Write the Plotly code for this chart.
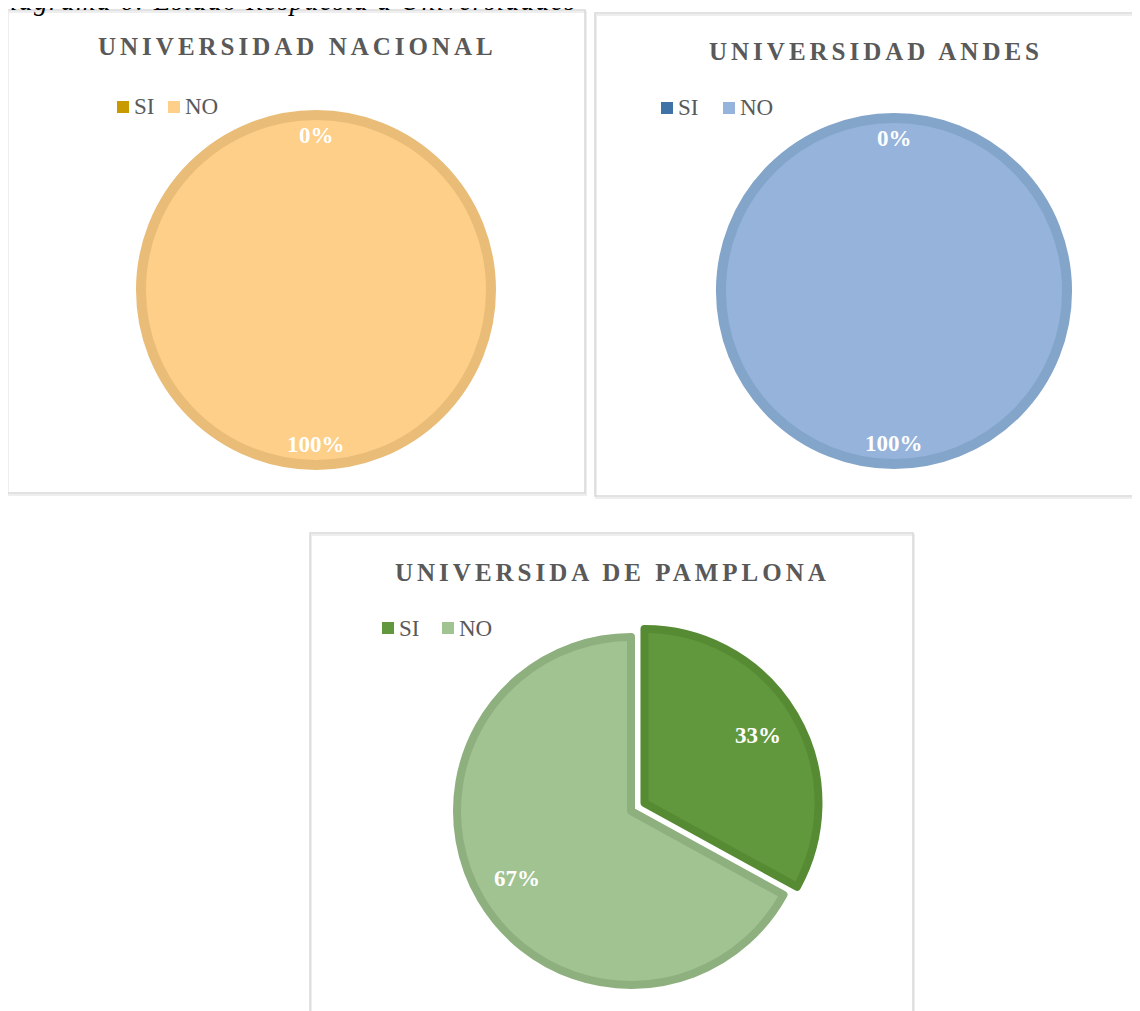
import math
import plotly.graph_objects as go

# page is 1140x1011; the html body adds an 8px margin, so the figure is
# slightly smaller and all reference pixel positions are shifted by OFF.
PAGE_W, PAGE_H = 1140, 1011
OFF = 8
FW, FH = PAGE_W - OFF, PAGE_H - OFF

# ---------------- data ----------------
categories = ["SI", "NO"]
nacional_values = [0, 100]
andes_values = [0, 100]
pamplona_values = [33, 67]
titles = ["UNIVERSIDAD NACIONAL", "UNIVERSIDAD ANDES", "UNIVERSIDA DE PAMPLONA"]
caption = "Diagrama 6: Estado Respuesta a Universidades"

# ---------------- styles ----------------
fill_colors = [["#C99A00", "#FDCF88"], ["#3F73A8", "#95B3DB"], ["#62983D", "#A0C391"]]
line_colors = [["#B58B00", "#E9BC78"], ["#386896", "#84A5CA"], ["#568B34", "#8EB07E"]]

panels = [
    dict(values=nacional_values, cx=316, cy=290, r=175, pull=0.0, lw=10, frac=0.88,
         title=(295, 47), legend=(117, 107, 51), box=(7, 10, 585, 493)),
    dict(values=andes_values, cx=894, cy=291, r=173, pull=0.0, lw=10, frac=0.88,
         title=(874, 51), legend=(661, 108, 62), box=(595, 13, 1150, 496)),
    dict(values=pamplona_values, cx=631, cy=811, r=174, pull=0.09, lw=8, frac=0.76,
         title=(610, 572), legend=(382, 628, 60), box=(310, 533, 913, 1020)),
]

SERIF = "Liberation Serif, Times New Roman, serif"
SQ = 12  # legend square size


def px(x):
    return (x - OFF) / FW


def py(y):
    return 1 - (y - OFF) / FH


fig = go.Figure()
annotations = []
shapes = []

for i, p in enumerate(panels):
    vals = p["values"]
    total = sum(vals)
    pulls = [p["pull"] if k == 0 else 0 for k in range(len(vals))]
    maxpull = max(pulls)
    side = 2 * p["r"] * (1 + maxpull)
    dom_x = [px(p["cx"] - side / 2), px(p["cx"] + side / 2)]
    dom_y = [py(p["cy"] + side / 2), py(p["cy"] - side / 2)]

    fig.add_trace(go.Pie(
        labels=categories,
        values=vals,
        sort=False,
        direction="clockwise",
        rotation=0,
        pull=pulls,
        textinfo="none",
        hoverinfo="label+percent",
        domain=dict(x=dom_x, y=dom_y),
        marker=dict(colors=fill_colors[i],
                    line=dict(color=line_colors[i],
                              width=[p["lw"] if v > 0 else 0 for v in vals])),
        showlegend=False,
    ))

    # data labels (percentages) placed at slice mid-angles
    cum = 0
    for k, v in enumerate(vals):
        theta = math.radians((cum + v / 2) / total * 360)
        cum += v
        dist = (p["frac"] + pulls[k]) * p["r"]
        lx = p["cx"] + dist * math.sin(theta)
        ly = p["cy"] - dist * math.cos(theta)
        annotations.append(dict(
            x=px(lx), y=py(ly), xref="paper", yref="paper",
            text=f"{round(v / total * 100)}%", showarrow=False,
            xanchor="center", yanchor="middle",
            font=dict(family=SERIF, size=23, color="white", weight="bold"),
        ))

    # chart title
    tx, ty = p["title"]
    annotations.append(dict(
        x=px(tx + 2), y=py(ty), xref="paper", yref="paper",
        text=f'<span style="letter-spacing:4px">{titles[i]}</span>',
        showarrow=False, xanchor="center", yanchor="middle",
        font=dict(family=SERIF, size=25, color="#595959", weight="bold"),
    ))

    # chart frame (with a faint shadow)
    x0, y0, x1, y1 = p["box"]
    shapes.append(dict(type="rect", xref="paper", yref="paper",
                       x0=px(x0 + 1), x1=px(x1 + 1), y0=py(y1 + 2), y1=py(y0 + 2),
                       line=dict(color="#EEEEEE", width=2), fillcolor="rgba(0,0,0,0)",
                       layer="below"))
    shapes.append(dict(type="rect", xref="paper", yref="paper",
                       x0=px(x0), x1=px(x1), y0=py(y1), y1=py(y0),
                       line=dict(color="#D9D9D9", width=1.5), fillcolor="rgba(0,0,0,0)",
                       layer="below"))

    # legend: colored square + label for each category
    lx0, lyc, step = p["legend"]
    for k, cat in enumerate(categories):
        sx = lx0 + k * step
        shapes.append(dict(type="rect", xref="paper", yref="paper",
                           x0=px(sx), x1=px(sx + SQ),
                           y0=py(lyc + SQ / 2), y1=py(lyc - SQ / 2),
                           line=dict(width=0), fillcolor=fill_colors[i][k]))
        annotations.append(dict(
            x=px(sx + SQ + 3), y=py(lyc), xref="paper", yref="paper", text=cat,
            showarrow=False, xanchor="left", yanchor="middle",
            font=dict(family=SERIF, size=23, color="#595959"),
        ))

# caption, partially cut off at the top of the page (as in the reference)
annotations.append(dict(
    x=px(578), y=py(1), xref="paper", yref="paper",
    text=f'<span style="letter-spacing:1.5px">{caption}</span>',
    showarrow=False, xanchor="right", yanchor="middle",
    font=dict(family=SERIF, size=27, color="black", style="italic"),
))

fig.update_layout(
    width=FW, height=FH,
    margin=dict(l=0, r=0, t=0, b=0),
    paper_bgcolor="white", plot_bgcolor="white",
    annotations=annotations, shapes=shapes,
    showlegend=False,
)

fig.write_html("out.html")
